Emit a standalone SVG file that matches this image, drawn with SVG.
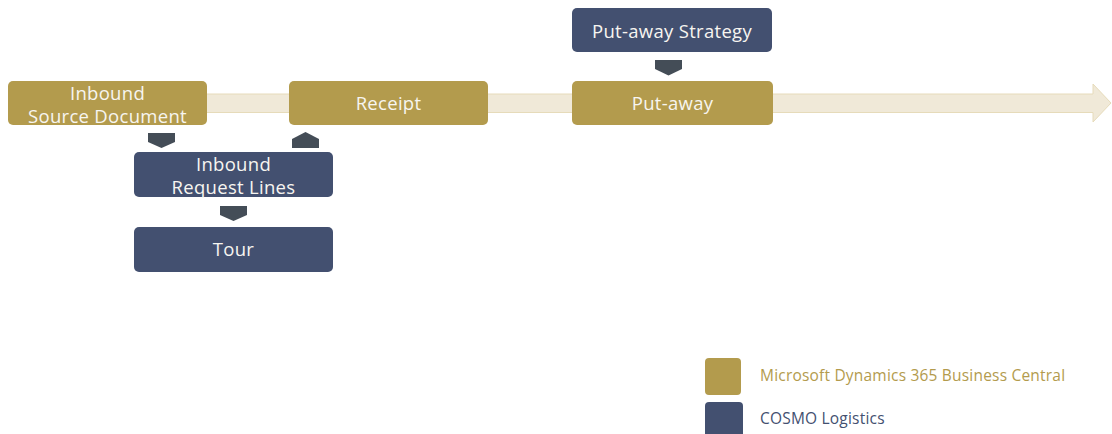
<svg xmlns="http://www.w3.org/2000/svg" width="1112" height="434" viewBox="0 0 1112 434">
<style>
.gold{fill:#b39b4d}
.blue{fill:#435070}
.chev{fill:#444d57}
.t{font-family:"Open Sans","Liberation Sans",sans-serif;font-size:18.5px;fill:#f7f5f0;text-anchor:middle;letter-spacing:0.3px}
.lg{font-family:"Open Sans","Liberation Sans",sans-serif;font-size:15.5px;letter-spacing:0.2px}
</style>
<rect width="1112" height="434" fill="#ffffff"/>
<g id="connectors">
<path d="M200 94 H1093 V84 L1111 103 L1093 122 V112.5 H200 Z" fill="#f0e9d8" stroke="#e6dbba" stroke-width="1"/>
<path class="chev" d="M148 133 H175 V142 L161.5 148 L148 142 Z"/>
<path class="chev" d="M292 148 H319 V139 L305.5 132 L292 139 Z"/>
<path class="chev" d="M220 206 H247 V215 L233.5 221 L220 215 Z"/>
<path class="chev" d="M655 60 H682 V69 L668.5 75.5 L655 69 Z"/>
</g>
<g id="inbound-source">
<rect class="gold" x="8" y="81" width="199" height="44" rx="5"/>
<text class="t" x="107.5" y="100">Inbound</text>
<text class="t" x="107.5" y="123">Source Document</text>
</g>
<g id="receipt">
<rect class="gold" x="289" y="81" width="199" height="44" rx="5"/>
<text class="t" x="388.5" y="110">Receipt</text>
</g>
<g id="putaway">
<rect class="gold" x="572" y="81" width="201" height="44" rx="5"/>
<text class="t" x="672.5" y="110">Put-away</text>
</g>
<g id="putaway-strategy">
<rect class="blue" x="572" y="8" width="200" height="44" rx="5"/>
<text class="t" x="672" y="38">Put-away Strategy</text>
</g>
<g id="inbound-request">
<rect class="blue" x="134" y="152" width="199" height="45" rx="5"/>
<text class="t" x="233.5" y="171">Inbound</text>
<text class="t" x="233.5" y="194">Request Lines</text>
</g>
<g id="tour">
<rect class="blue" x="134" y="227" width="199" height="45" rx="5"/>
<text class="t" x="233.5" y="256">Tour</text>
</g>
<g id="legend">
<rect class="gold" x="705" y="358" width="36" height="37" rx="4"/>
<text class="lg" x="760" y="381" fill="#b39b4d">Microsoft Dynamics 365 Business Central</text>
<rect class="blue" x="705" y="402" width="38" height="40" rx="4"/>
<text class="lg" x="760" y="424" fill="#435070">COSMO Logistics</text>
</g>
</svg>
